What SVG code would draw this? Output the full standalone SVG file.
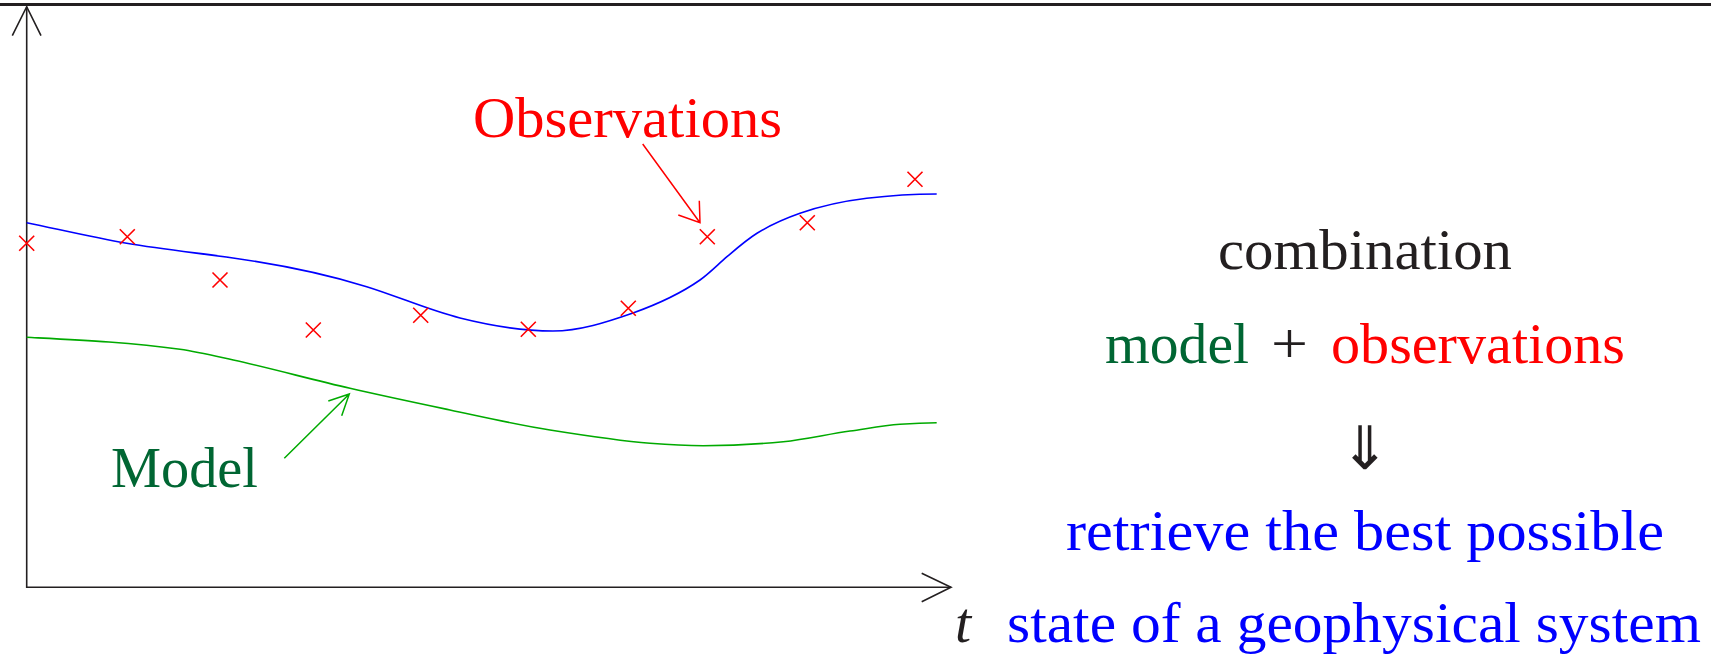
<svg xmlns="http://www.w3.org/2000/svg" width="1711" height="656" viewBox="0 0 1711 656">
<style>
.ax{stroke:#231f20;stroke-width:1.6;fill:none}
.blue{stroke:#0000ff;stroke-width:1.6;fill:none}
.green{stroke:#00aa00;stroke-width:1.6;fill:none}
.cross{stroke:#ff0000;stroke-width:1.6;fill:none}
.red{stroke:#ff0000;stroke-width:1.5;fill:none}
.garr{stroke:#00aa00;stroke-width:1.5;fill:none}
.t{font-family:"Liberation Serif","Times New Roman",serif;font-size:58px}
</style>
<defs>
<path id="x" d="M-7.5,-7.5 L7.5,7.5 M-7.5,7.5 L7.5,-7.5"/>
</defs>
<rect x="0" y="0" width="1711" height="656" fill="#ffffff"/>
<line x1="0" y1="4.5" x2="1711" y2="4.5" stroke="#231f20" stroke-width="3"/>
<g id="axes">
<path class="ax" d="M26.7,6.7 L26.7,587.3 L951,587.3"/>
<path class="ax" d="M12.3,35.7 L26.7,6.7 L41,35.7"/>
<path class="ax" d="M921.7,573.3 L951,587.3 L921.7,601.7"/>
<text class="t" x="955" y="641.7" font-style="italic" fill="#231f20">t</text>
</g>
<g id="estimate">
<path class="blue" d="M26.7,222.7 C60,229.6 93.4,237.6 126.7,243.3 C162.1,249.3 197.6,253 233,258 C277.6,264.3 322.1,272.9 366.7,286.7 C397.8,296.3 428.9,310.2 460,318 C491,325.75 522,331 553,331 C579.7,331 606.3,322.3 633,313 C655.3,305 677.7,295.6 700,280 C709,273.7 718,264.4 727,256.7 C737,248.2 747,239.5 757,233.3 C771.3,224.4 785.7,218.3 800,213.3 C822.2,205.5 844.5,201 866.7,198.3 C890,195.5 913.4,194 936.7,194"/>
</g>
<g id="model">
<path class="green" d="M26.7,337.3 C77.8,339.9 128.9,342.1 180,349.3 C197.8,351.8 215.5,356.1 233.3,360 C272.2,368.6 311.1,379.4 350,388.3 C383.3,396 416.7,403 450,410 C483.3,417 516.7,424.7 550,430 C583.3,435.3 616.7,440.6 650,443.3 C667.8,444.7 685.5,445.7 703.3,445.7 C730,445.7 756.7,444.4 783.3,441.7 C805.5,439.5 827.8,434.1 850,431 C866.7,428.7 883.3,425.5 900,424.3 C912.2,423.5 924.5,422.9 936.7,422.7"/>
<path class="garr" d="M284.3,458.3 L349.3,394 M328.3,401 L349.3,394 L341.7,415.7"/>
<text class="t" x="111" y="487.3" fill="#006633" textLength="147" lengthAdjust="spacingAndGlyphs">Model</text>
</g>
<g id="observations">
<g fill="none">
<use href="#x" class="cross" x="26.7" y="243.3"/>
<use href="#x" class="cross" x="127.3" y="236.7"/>
<use href="#x" class="cross" x="220" y="280"/>
<use href="#x" class="cross" x="313.3" y="330"/>
<use href="#x" class="cross" x="420.7" y="315.3"/>
<use href="#x" class="cross" x="528.3" y="329.3"/>
<use href="#x" class="cross" x="628.3" y="308.3"/>
<use href="#x" class="cross" x="707.3" y="236.7"/>
<use href="#x" class="cross" x="807.3" y="222.7"/>
<use href="#x" class="cross" x="915" y="179.3"/>
</g>
<path class="red" d="M642.7,144 L700,222.7 M678.3,215 L700,222.7 L699.3,200.7"/>
<text class="t" x="473" y="137" fill="#ff0000" textLength="309" lengthAdjust="spacingAndGlyphs">Observations</text>
</g>
<g id="summary">
<text class="t" x="1218" y="269" fill="#231f20" textLength="294" lengthAdjust="spacingAndGlyphs">combination</text>
<text class="t" x="1105" y="363" fill="#006633" textLength="144" lengthAdjust="spacingAndGlyphs">model</text>
<text class="t" x="1271" y="363" fill="#231f20" textLength="37" lengthAdjust="spacingAndGlyphs">+</text>
<text class="t" x="1331" y="363" fill="#ff0000" textLength="294" lengthAdjust="spacingAndGlyphs">observations</text>
<text x="1365" y="469" font-family="DejaVu Sans, sans-serif" font-size="60" fill="#231f20" text-anchor="middle">⇓</text>
<text class="t" x="1066" y="550" fill="#0000ff" textLength="598" lengthAdjust="spacingAndGlyphs">retrieve the best possible</text>
<text class="t" x="1007" y="641.7" fill="#0000ff" textLength="694" lengthAdjust="spacingAndGlyphs">state of a geophysical system</text>
</g>
</svg>
